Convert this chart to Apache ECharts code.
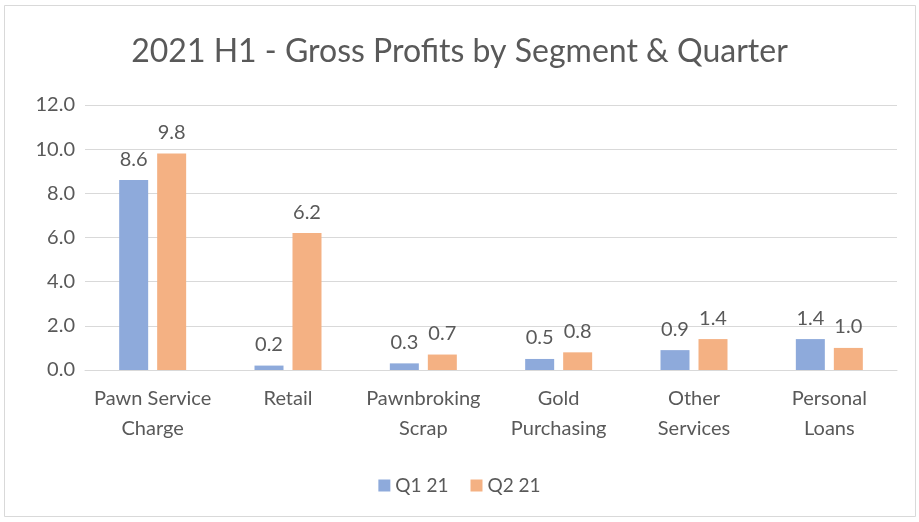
<!DOCTYPE html>
<html>
<head>
<meta charset="utf-8">
<script src="https://cdn.jsdelivr.net/npm/echarts@6/dist/echarts.min.js"></script>
<style>
  html, body { margin: 0; padding: 0; background: #fff; }
  #main { width: 919px; height: 522px; }
</style>
</head>
<body>
<div id="main"></div>
<script>
// segment names and values per quarter
var categories = ['Pawn Service\nCharge', 'Retail', 'Pawnbroking\nScrap', 'Gold\nPurchasing', 'Other\nServices', 'Personal\nLoans'];
var q1 = [8.6, 0.2, 0.3, 0.5, 0.9, 1.4];
var q2 = [9.8, 6.2, 0.7, 0.8, 1.4, 1.0];
var seriesNames = ['Q1 21', 'Q2 21'];

var txt = '#595959';
var fnt = 'Lato, "Open Sans", sans-serif';

function oneDec(p) { return p.value.toFixed(1); }

var chart = echarts.init(document.getElementById('main'));
chart.setOption({
  animation: false,
  backgroundColor: '#fff',
  title: {
    text: '2021 H1 - Gross Profits by Segment & Quarter',
    left: 'center',
    top: 31,
    textStyle: { fontFamily: fnt, fontSize: 32, fontWeight: 'normal', color: txt }
  },
  legend: {
    bottom: 22,
    left: 'center',
    itemWidth: 12,
    itemHeight: 12,
    itemGap: 22,
    icon: 'rect',
    textStyle: { fontFamily: fnt, fontSize: 19, color: txt },
    data: seriesNames
  },
  grid: { left: 85, right: 22, top: 105, bottom: 152 },
  xAxis: {
    type: 'category',
    data: categories,
    axisLine: { lineStyle: { color: '#d9d9d9', width: 1 } },
    axisTick: { show: false },
    axisLabel: { interval: 0, fontFamily: fnt, fontSize: 20, color: txt, lineHeight: 30, margin: 14 }
  },
  yAxis: {
    type: 'value',
    min: 0,
    max: 12,
    interval: 2,
    axisLine: { show: false },
    axisTick: { show: false },
    splitLine: { lineStyle: { color: '#d9d9d9', width: 1 } },
    axisLabel: {
      fontFamily: fnt, fontSize: 20, color: txt, margin: 10,
      formatter: function (v) { return v.toFixed(1); }
    }
  },
  series: [
    {
      name: seriesNames[0],
      type: 'bar',
      data: q1,
      barWidth: 29,
      barGap: '31%',
      itemStyle: { color: '#8eaadb' },
      label: {
        show: true, position: 'top', distance: 11,
        fontFamily: fnt, fontSize: 20, color: txt,
        formatter: oneDec
      }
    },
    {
      name: seriesNames[1],
      type: 'bar',
      data: q2,
      barWidth: 29,
      itemStyle: { color: '#f4b183' },
      label: {
        show: true, position: 'top', distance: 11,
        fontFamily: fnt, fontSize: 20, color: txt,
        formatter: oneDec
      }
    }
  ],
  graphic: [{
    type: 'rect',
    shape: { x: 4.5, y: 5.5, width: 911, height: 511 },
    style: { fill: 'none', stroke: '#d9d9d9', lineWidth: 1 },
    silent: true
  }]
});
</script>
</body>
</html>
